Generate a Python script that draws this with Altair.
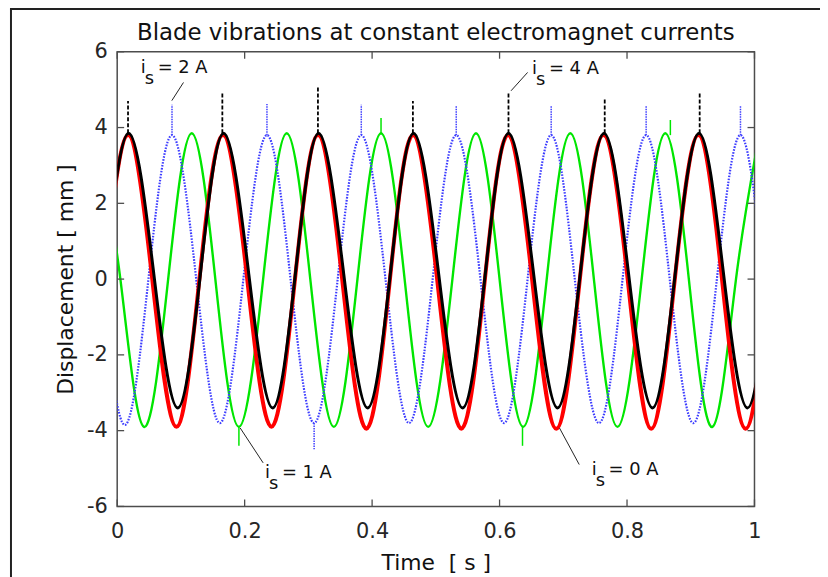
import altair as alt
import pandas as pd

# ---------------- data ----------------
# i_s = 0 A (red): peaks, troughs and zero crossings (one crossing past each edge)
red_t = [-0.020, 0.017, 0.055, 0.093, 0.129, 0.166, 0.204, 0.242, 0.279, 0.315,
         0.353, 0.391, 0.428, 0.464, 0.502, 0.540, 0.577, 0.613, 0.651, 0.689,
         0.726, 0.763, 0.801, 0.838, 0.875, 0.912, 0.949, 0.986, 1.023]
red_y = [0.0, 3.80, 0.0, -3.90, 0.0, 3.80, 0.0, -3.90, 0.0, 3.80,
         0.0, -3.95, 0.0, 3.80, 0.0, -3.95, 0.0, 3.80, 0.0, -3.95,
         0.0, 3.80, 0.0, -3.95, 0.0, 3.80, 0.0, -3.95, 0.0]

# i_s = 4 A (black)
black_t = [-0.019, 0.018, 0.057, 0.095, 0.131, 0.167, 0.206, 0.244, 0.280, 0.316,
           0.355, 0.393, 0.429, 0.465, 0.504, 0.542, 0.578, 0.614, 0.653, 0.691,
           0.727, 0.764, 0.802, 0.840, 0.876, 0.913, 0.951, 0.989, 1.025]
black_y = [0.2, 3.85, 0.2, -3.40, 0.2, 3.85, 0.2, -3.40, 0.2, 3.85,
           0.2, -3.40, 0.2, 3.85, 0.2, -3.40, 0.2, 3.85, 0.2, -3.40,
           0.2, 3.85, 0.2, -3.40, 0.2, 3.85, 0.2, -3.40, 0.2]

# i_s = 2 A (blue)
blue_t = [-0.025, 0.012, 0.049, 0.086, 0.124, 0.161, 0.198, 0.235, 0.272, 0.309,
          0.346, 0.383, 0.421, 0.458, 0.495, 0.532, 0.570, 0.607, 0.644, 0.681,
          0.718, 0.756, 0.793, 0.830, 0.867, 0.904, 0.941, 0.978, 1.015]
blue_y = [0.0, -3.85, 0.0, 3.80, 0.0, -3.80, 0.0, 3.80, 0.0, -3.80,
          0.0, 3.80, 0.0, -3.80, 0.0, 3.80, 0.0, -3.80, 0.0, 3.80,
          0.0, -3.80, 0.0, 3.80, 0.0, -3.80, 0.0, 3.80, 0.0]

# i_s = 1 A (green)
green_t = [-0.032, 0.005, 0.042, 0.080, 0.117, 0.154, 0.191, 0.229, 0.266, 0.303,
           0.340, 0.377, 0.414, 0.451, 0.488, 0.526, 0.563, 0.600, 0.637, 0.674,
           0.711, 0.748, 0.785, 0.823, 0.860, 0.897, 0.934, 0.971, 1.008]
green_y = [3.85, 0.0, -3.90, 0.0, 3.85, 0.0, -3.90, 0.0, 3.85, 0.0,
           -3.90, 0.0, 3.85, 0.0, -3.90, 0.0, 3.85, 0.0, -3.90, 0.0,
           3.85, 0.0, -3.90, 0.0, 3.85, 0.0, -3.90, 0.0, 3.85]

# noise spikes visible in the traces
blue_spike_t = [0.086, 0.235, 0.383, 0.532, 0.681, 0.830, 0.978, 0.309]
blue_spike_lo = [3.80, 3.80, 3.80, 3.80, 3.80, 3.80, 3.80, -3.80]
blue_spike_hi = [4.60, 4.62, 4.60, 4.58, 4.58, 4.58, 4.58, -4.50]

black_spike_t = [0.017, 0.165, 0.315, 0.464, 0.614, 0.765, 0.914]
black_spike_lo = [3.85, 3.85, 3.85, 3.85, 3.85, 3.85, 3.85]
black_spike_hi = [4.70, 4.90, 5.10, 4.70, 4.90, 4.75, 4.90]

green_spike_t = [0.191, 0.636, 0.414, 0.868]
green_spike_lo = [-3.90, -3.90, 3.85, 3.80]
green_spike_hi = [-4.40, -4.40, 4.25, 4.20]

# annotations
label_rest = ["= 2 A", "= 4 A", "= 1 A", "= 0 A"]
label_t = [0.037, 0.651, 0.232, 0.7445]
label_y = [5.44, 5.41, -5.245, -5.16]
lead_t1 = [0.104, 0.644, 0.229, 0.725]
lead_y1 = [5.19, 5.455, -4.85, -4.895]
lead_t2 = [0.0857, 0.618, 0.193, 0.694]
lead_y2 = [4.71, 4.97, -3.93, -3.93]

x_ticks = [0, 0.2, 0.4, 0.6, 0.8, 1.0]
y_ticks = [-6, -4, -2, 0, 2, 4, 6]

title_text = "Blade vibrations at constant electromagnet currents"
x_title = "Time \u00a0[ s ]"
y_title = "Displacement  [ mm ]"

# ---------------- chart ----------------
FONT = "DejaVu Sans"
W, H = 642, 458
AX = "#4d4d4d"

xs = alt.Scale(domain=[0, 1], nice=False, zero=False)
ys = alt.Scale(domain=[-6, 6], nice=False, zero=False)

x_axis = alt.Axis(values=x_ticks, labelExpr="'' + datum.value", ticks=False, tickSize=0,
                  domain=False, grid=False, labelFont=FONT, labelFontSize=21,
                  labelColor="#262626", labelPadding=14, labelFlush=False,
                  labelOverlap=False, title=x_title, titleFont=FONT, titleFontSize=22,
                  titleFontWeight="normal", titleColor="#111111",
                  titleBaseline="alphabetic", titleY=64)
y_axis = alt.Axis(values=y_ticks, labelExpr="'' + datum.value", ticks=False, tickSize=0,
                  domain=False, grid=False, labelFont=FONT, labelFontSize=21,
                  labelColor="#262626", labelPadding=10, labelFlush=False,
                  labelOverlap=False, title=y_title, titleFont=FONT, titleFontSize=22,
                  titleFontWeight="normal", titleColor="#111111",
                  titleBaseline="alphabetic", titleX=-45, titleAngle=-90)

X = alt.X("t:Q", scale=xs, axis=x_axis)
Y = alt.Y("y:Q", scale=ys, axis=y_axis)


def trace(t, y, **style):
    return alt.Chart(pd.DataFrame({"t": t, "y": y})).mark_line(
        interpolate="natural", clip=True, **style).encode(x=X, y=Y)


def spikes(t, lo, hi, **style):
    return alt.Chart(pd.DataFrame({"t": t, "y": lo, "y2": hi})).mark_rule(**style).encode(
        x=X, y=Y, y2="y2:Q")


green = trace(green_t, green_y, color="#00e600", strokeWidth=2.4)
blue = trace(blue_t, blue_y, color="#3d3dff", strokeWidth=2.2, strokeDash=[1.6, 1.4])
red = trace(red_t, red_y, color="#ff0000", strokeWidth=4.0)
black = trace(black_t, black_y, color="#000000", strokeWidth=3.0)

g_sp = spikes(green_spike_t, green_spike_lo, green_spike_hi, color="#00e600", strokeWidth=1.5)
b_sp = spikes(blue_spike_t, blue_spike_lo, blue_spike_hi, color="#3d3dff", strokeWidth=1.5,
              strokeDash=[1.5, 1])
k_sp = spikes(black_spike_t, black_spike_lo, black_spike_hi, color="#000000", strokeWidth=1.8,
              strokeDash=[4, 2])

ann = pd.DataFrame({"t": label_t, "y": label_y, "rest": label_rest,
                    "t1": lead_t1, "y1": lead_y1, "t2": lead_t2, "y2": lead_y2})
base_ann = alt.Chart(ann)
txt_style = dict(font=FONT, fontSize=18, align="left", baseline="alphabetic", color="#111111")
ann_i = base_ann.mark_text(text="i", **txt_style).encode(x=X, y=Y)
ann_s = base_ann.mark_text(text="s", dx=4, dy=11, **txt_style).encode(x=X, y=Y)
ann_rest = base_ann.mark_text(dx=17, **txt_style).encode(x=X, y=Y, text="rest:N")
ann_lead = base_ann.mark_rule(color="#222222", strokeWidth=1).encode(
    x=alt.X("t1:Q", scale=xs, axis=x_axis), x2="t2:Q",
    y=alt.Y("y1:Q", scale=ys, axis=y_axis), y2="y2:Q")

xt = alt.Chart(pd.DataFrame({"t": x_ticks}))
yt = alt.Chart(pd.DataFrame({"y": y_ticks}))
tick_style = dict(color=AX, strokeWidth=1.3)
tb = xt.mark_rule(**tick_style).encode(x=X, y=alt.value(H), y2=alt.value(H - 7))
tt = xt.mark_rule(**tick_style).encode(x=X, y=alt.value(0), y2=alt.value(7))
tl = yt.mark_rule(**tick_style).encode(y=Y, x=alt.value(0), x2=alt.value(7))
tr = yt.mark_rule(**tick_style).encode(y=Y, x=alt.value(W), x2=alt.value(W - 7))

one = alt.Chart(pd.DataFrame({"a": [0]}))
frame_v = one.mark_rule(color="#222222", strokeWidth=2).encode(
    x=alt.value(-107), y=alt.value(-43), y2=alt.value(540))
frame_h = one.mark_rule(color="#222222", strokeWidth=2).encode(
    y=alt.value(-43), x=alt.value(-108), x2=alt.value(760))

chart = alt.layer(
    green, blue, red, black, g_sp, b_sp, k_sp,
    ann_lead, ann_i, ann_s, ann_rest,
    tb, tt, tl, tr, frame_v, frame_h,
).properties(
    width=W, height=H,
    title=alt.TitleParams(title_text, font=FONT, fontSize=23, fontWeight="normal",
                          color="#111111", anchor="middle", offset=0,
                          baseline="alphabetic", dy=55),
    autosize=alt.AutoSizeParams(type="none"),
    padding={"left": 110, "top": 42, "right": 66, "bottom": 69},
    background="white",
).configure_view(stroke=AX, strokeWidth=1.5)

chart.save("out.html", embed_options={"renderer": "svg", "actions": False})
